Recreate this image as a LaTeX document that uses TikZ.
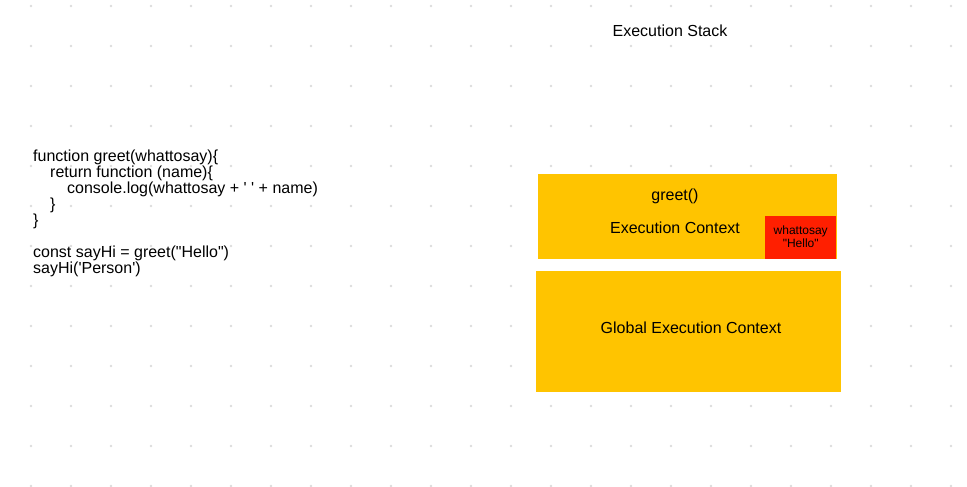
\documentclass[tikz,border=0pt]{standalone}
\usepackage{fontspec}
\setmainfont{Liberation Sans}
\usetikzlibrary{positioning,calc}
\definecolor{ctxyellow}{HTML}{FFC400}
\definecolor{ctxred}{HTML}{FF1F00}
\definecolor{dotgrey}{HTML}{DCDCDC}

\begin{document}
\begin{tikzpicture}[x=1pt, y=-1pt,
    ctxbox/.style = {fill=ctxyellow, inner sep=0pt, anchor=north west},
    varbox/.style = {fill=ctxred, inner sep=0pt, anchor=north west},
    label16/.style = {font=\fontsize{16}{16}\selectfont, inner sep=0pt, anchor=base},
    label12/.style = {font=\fontsize{12}{13}\selectfont, inner sep=0pt, align=center}]
    \useasboundingbox(0,0)rectangle(967,487);
    % grid
    \foreach \x in {31,71,...,951}
        \foreach \y in {6,46,...,486}
            \path[fill=dotgrey](\x,\y)circle(1.3pt);
    % code
    \node[anchor=north west, inner sep=0pt, align=left,
        font=\fontsize{16}{16}\selectfont](code)at(33,149.5){%
        function greet(whattosay)\{\\
        \hspace*{17pt}return function (name)\{\\
        \hspace*{34pt}console.log(whattosay + \textquotesingle\ \textquotesingle\ + name)\\
        \hspace*{17pt}\}\\
        \}\\[16pt]
        const sayHi = greet(\textquotedbl Hello\textquotedbl)\\
        sayHi(\textquotesingle Person\textquotesingle)};
    % title
    \node[label16](title)at(670,37){Execution Stack};
    % greet() context
    \node[ctxbox, minimum width=299pt, minimum height=85pt](greetctx)at(538,174){};
    \node[label16](greetname)at(675,200.5){greet()};
    \node[label16](greetlabel)at(675,233){Execution Context};
    % variable
    \node[varbox, minimum width=71pt, minimum height=43pt](var)at(765,216){};
    \node[label12](varlabel)at($(var.center)+(0,-1)$){whattosay\\\textquotedbl Hello\textquotedbl};
    % global context
    \node[ctxbox, minimum width=305pt, minimum height=121pt](globalctx)at(536,271){};
    \node[label16](globallabel)at(691,333){Global Execution Context};
\end{tikzpicture}
\end{document}
